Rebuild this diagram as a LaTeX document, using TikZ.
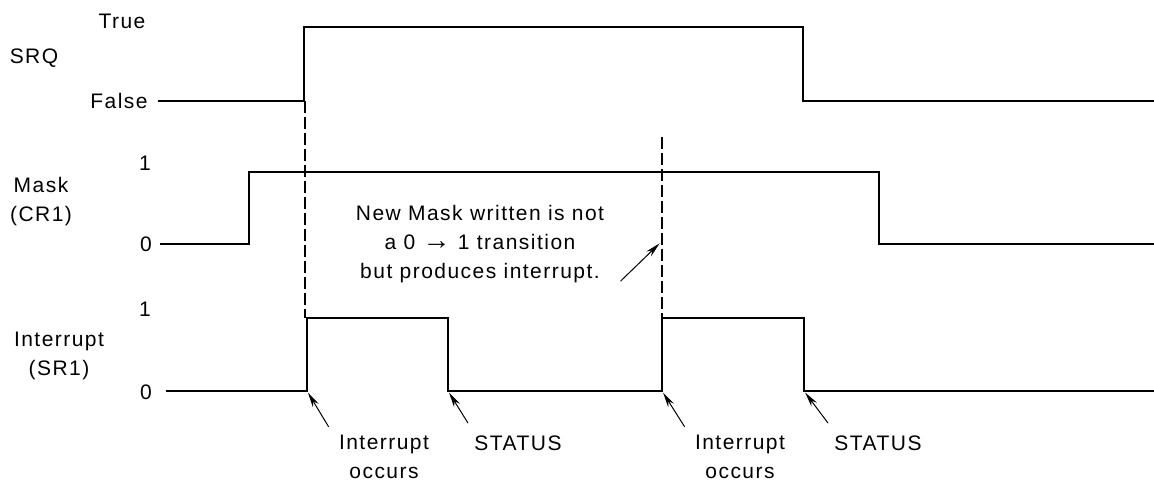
\documentclass[tikz,border=0pt]{standalone}
\usepackage{fontspec}
\setmainfont[LetterSpace=7]{Liberation Sans}
\usetikzlibrary{arrows.meta}

\tikzset{
  signal/.style={line width=1pt, line join=miter},
  marker/.style={line width=0.7pt, dash pattern=on 6pt off 2pt},
  pointer/.style={-{Stealth[length=7.5pt,width=3.4pt]}, line width=0.5pt, shorten >=1pt},
  lbl/.style={align=center, inner sep=1pt}
}

\begin{document}
\begin{tikzpicture}[x=0.5pt, y=-0.5pt, font=\fontsize{10.5}{14.5}\selectfont]
  \useasboundingbox (0,0) rectangle (1154,483);
  % signal names
  \node[lbl] (srq) at (34,58) {SRQ};
  \node[lbl] (mask) at (41,202) {Mask\\(CR1)};
  \node[lbl] (intr) at (59,356) {Interrupt\\(SR1)};
  % levels
  \node[lbl] (true) at (122,21) {True};
  \node[lbl] (false) at (119,101) {False};
  \node[lbl] (mhi) at (145,163) {1};
  \node[lbl] (mlo) at (146,244) {0};
  \node[lbl] (ihi) at (145,309) {1};
  \node[lbl] (ilo) at (146,392) {0};
  % waveforms
  \draw[signal] (158,101) -- (304,101) -- (304,27) -- (803,27) -- (803,101) -- (1154,101);
  \draw[signal] (160,244) -- (249,244) -- (249,172) -- (879,172) -- (879,244) -- (1154,244);
  \draw[signal] (166,391) -- (307,391) -- (307,318) -- (448,318) -- (448,391)
    -- (662,391) -- (662,318) -- (804,318) -- (804,391) -- (1154,391);
  % edges that the notes point at
  \coordinate (irqA) at (307,391);
  \coordinate (statA) at (448,391);
  \coordinate (irqB) at (662,391);
  \coordinate (statB) at (804,391);
  \coordinate (newmask) at (661,242);
  % dashed markers
  \foreach \x/\y in {305/101, 662/137}
    \draw[marker] (\x,\y) -- (\x,318);
  % notes
  \node[lbl] (note) at (480,244) {New Mask written is not\\a 0 {\fontsize{14}{14.5}\selectfont →} 1 transition\\but produces interrupt.};
  \node[lbl] (occA) at (384,457) {Interrupt\\occurs};
  \node[lbl] (stsA) at (518,443) {STATUS};
  \node[lbl] (occB) at (740,457) {Interrupt\\occurs};
  \node[lbl] (stsB) at (878,443) {STATUS};
  \draw[pointer] ([shift={(-8,-6)}]occA.north west) -- (irqA);
  \draw[pointer] ([shift={(-4,-10)}]stsA.north west) -- (statA);
  \draw[pointer] ([shift={(-8,-6)}]occB.north west) -- (irqB);
  \draw[pointer] ([shift={(-4,-10)}]stsB.north west) -- (statB);
  \draw[pointer] ([shift={(14,-4)}]note.south east) -- (newmask);
\end{tikzpicture}
\end{document}
